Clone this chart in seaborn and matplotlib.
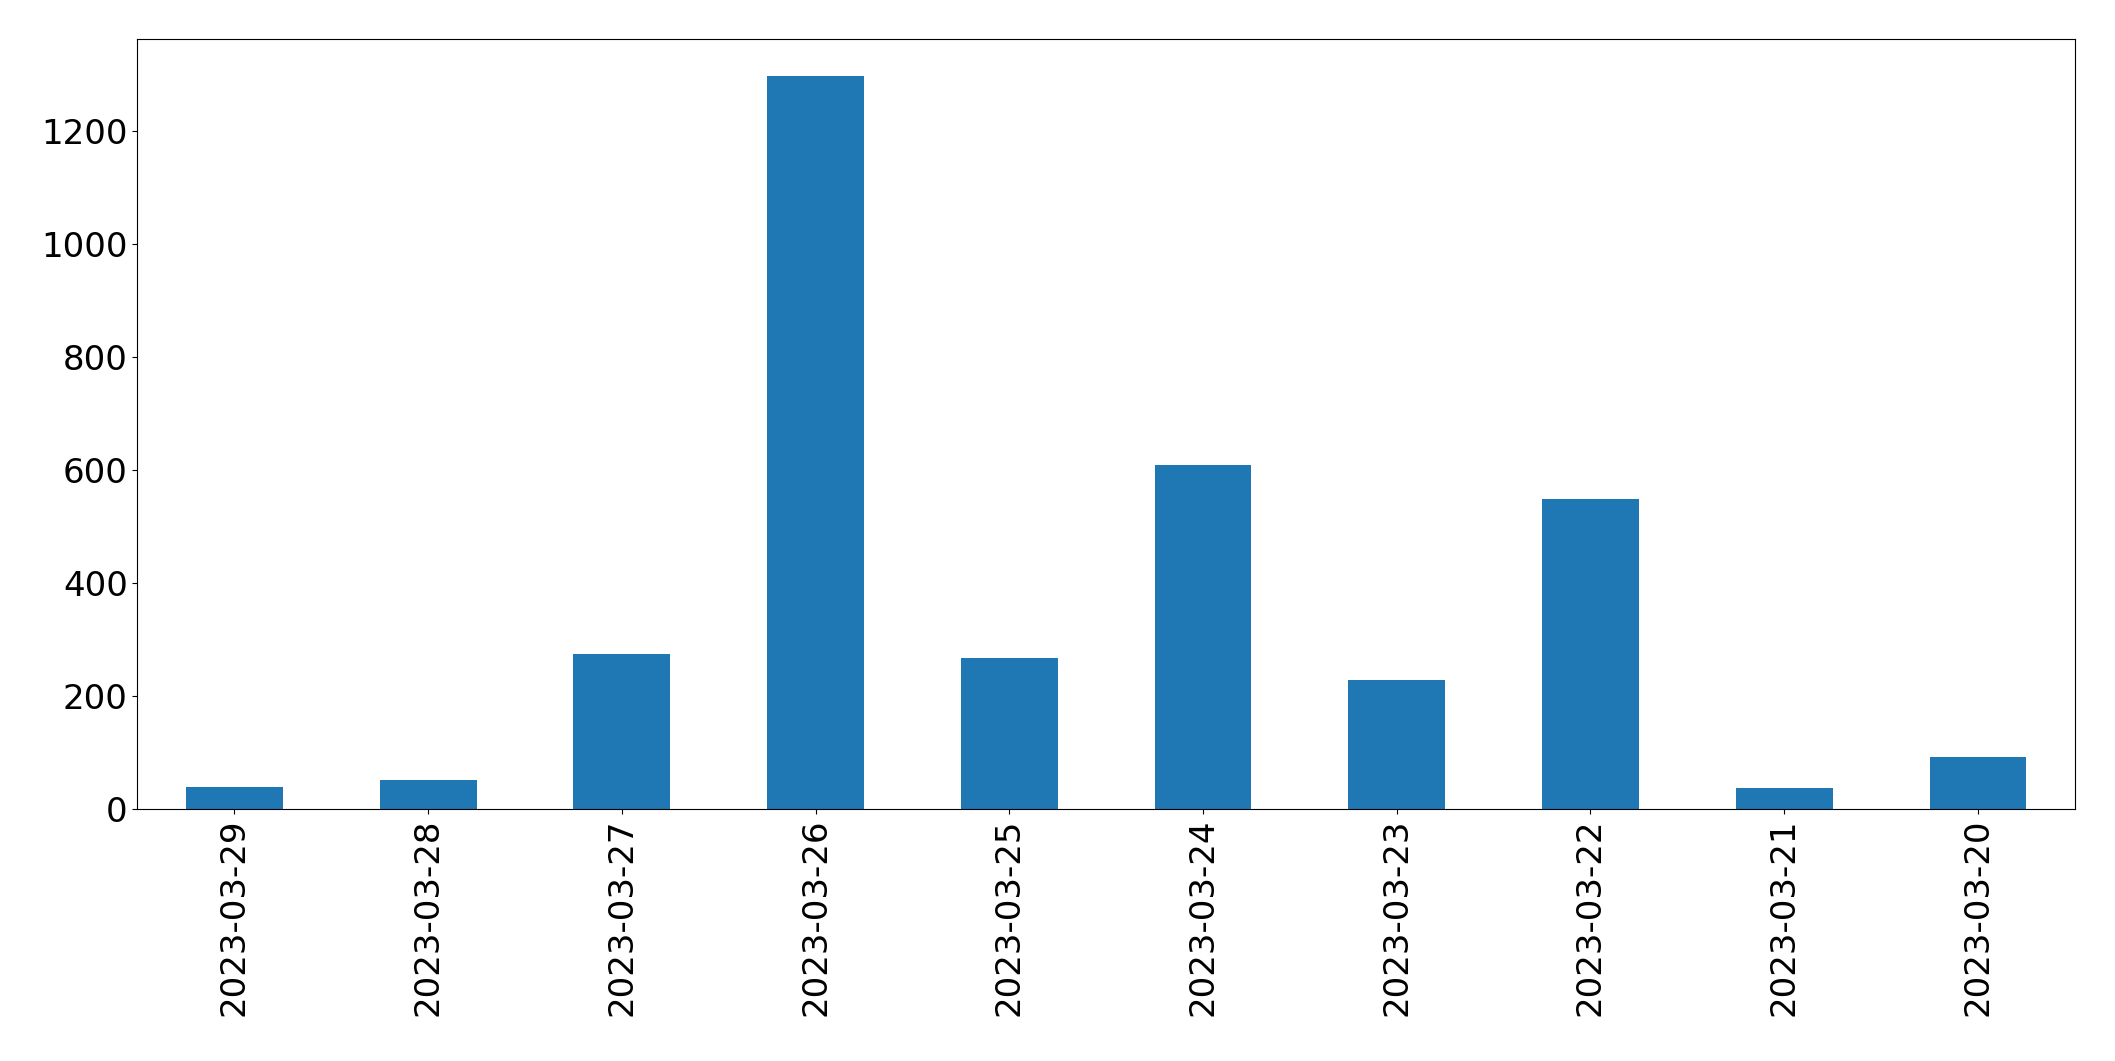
"""
Daily counts bar chart (dates in descending order).
"""

import matplotlib
matplotlib.use('Agg')
import matplotlib.pyplot as plt
import seaborn as sns
import pandas as pd

dates = ['2023-03-29', '2023-03-28', '2023-03-27', '2023-03-26', '2023-03-25',
         '2023-03-24', '2023-03-23', '2023-03-22', '2023-03-21', '2023-03-20']
counts = [39, 51, 274, 1297, 267, 609, 228, 549, 37, 92]

df = pd.DataFrame({'date': dates, 'count': counts})

fig, ax = plt.subplots(figsize=(21.15, 10.61), dpi=100)
sns.barplot(data=df, x='date', y='count', order=dates, color='#1f77b4',
            saturation=1, width=0.5, ax=ax)

ax.set_xlim(-0.5, len(dates) - 0.5)
ax.set_ylim(0, max(counts) * 1.05)
ax.set_xlabel('')
ax.set_ylabel('')
ax.tick_params(axis='both', labelsize=24.5)
ax.tick_params(axis='x', labelrotation=90)

fig.subplots_adjust(left=0.065, right=0.981, top=0.963, bottom=0.2375)
fig.savefig('out.png', dpi=100)
